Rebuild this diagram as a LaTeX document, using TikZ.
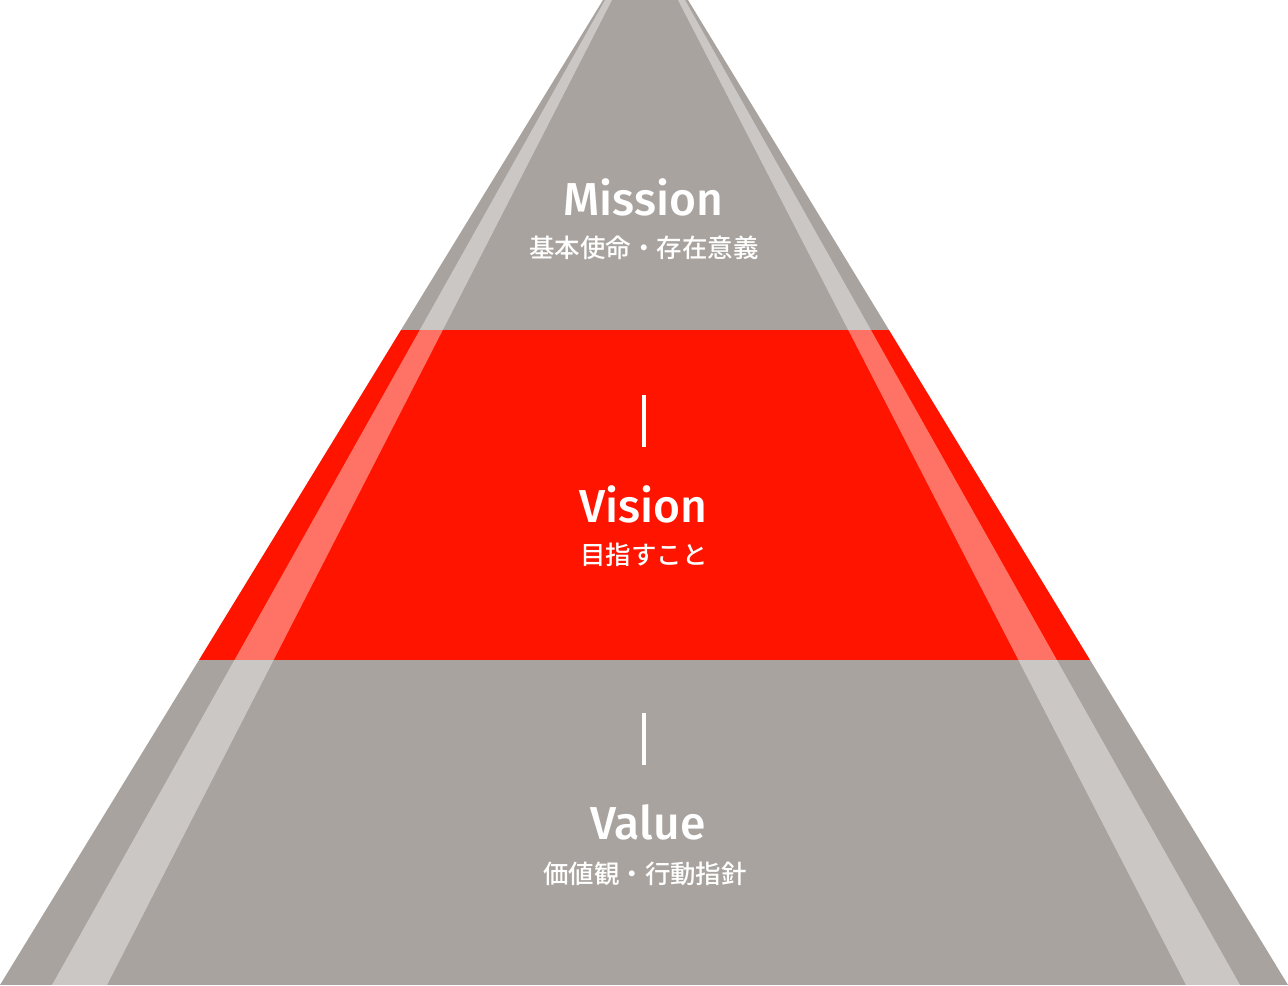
\documentclass[tikz,border=0pt]{standalone}
\usepackage{fontspec}
\setmainfont{Fira Sans}[BoldFont={Fira Sans Medium}]
\newfontfamily\jpfont{Noto Sans CJK JP}[BoldFont={Noto Sans CJK JP Medium}]
\definecolor{pyrgray}{HTML}{A8A39F}
\definecolor{pyrred}{HTML}{FF1400}
\tikzset{
  title/.style={text=white, inner sep=0pt, anchor=base, font=\bfseries\fontsize{26.3}{26.3}\selectfont},
  subtitle/.style={text=white, inner sep=0pt, font=\jpfont\bfseries\fontsize{14.5}{14.5}\selectfont},
  bar/.style={draw=white, line width=2.3pt}
}

\begin{document}
\begin{tikzpicture}[x=0.02cm, y=-0.02cm]
    \useasboundingbox (0,0) rectangle (1288,985);
    % Define the pyramid corners
    \coordinate (TL) at (603,0);
    \coordinate (TR) at (688,0);
    \coordinate (BR) at (1288,985);
    \coordinate (BL) at (0,985);

    \begin{scope}
    \clip (TL) -- (TR) -- (BR) -- (BL) -- cycle;
    \fill[pyrgray] (0,0) rectangle (1288,330);
    \fill[pyrred] (0,330) rectangle (1288,660);
    \fill[pyrgray] (0,660) rectangle (1288,985);
    % light stripes
    \fill[white, opacity=0.4] (605,0) -- (612,0) -- (107,985) -- (52,985) -- cycle;
    \fill[white, opacity=0.4] (678,0) -- (685,0) -- (1240,985) -- (1186,985) -- cycle;
    \end{scope}

    % Define the labels
    \node[title] (mission) at (643,215) {Mission};
    \node[subtitle] (missionjp) at (644,248) {基本使命・存在意義};
    \node[title] (vision) at (643,522) {Vision};
    \node[subtitle] (visionjp) at (644,555) {目指すこと};
    \node[title] (value) at (648,839) {Value};
    \node[subtitle] (valuejp) at (645,874) {価値観・行動指針};

    % small bars
    \coordinate (v1) at (644,395);
    \coordinate (v2) at (644,447);
    \coordinate (w1) at (644,713);
    \coordinate (w2) at (644,765);
    \draw[bar] (v1) -- (v2);
    \draw[bar] (w1) -- (w2);

\end{tikzpicture}
\end{document}
